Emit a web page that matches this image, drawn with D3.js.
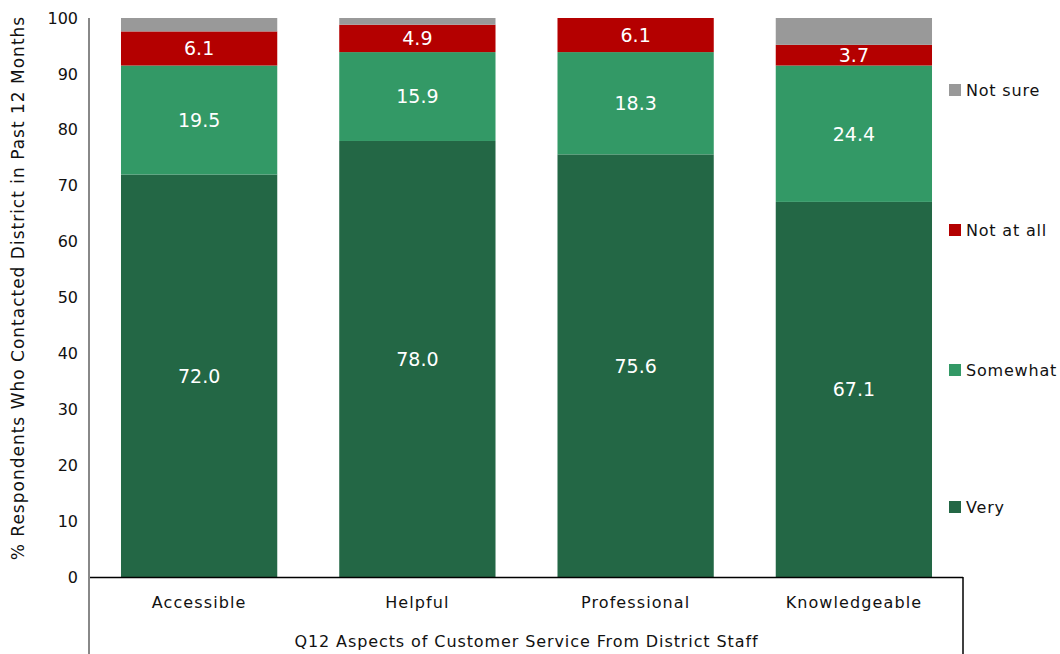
<!DOCTYPE html>
<html><head><meta charset="utf-8">
<script src="https://cdn.jsdelivr.net/npm/d3@7"></script>
<style>body{margin:0;background:#fff}</style>
</head><body>
<svg id="c" width="1060" height="654"></svg>
<script>
const categories = ["Accessible","Helpful","Professional","Knowledgeable"];
const seriesNames = ["Very","Somewhat","Not at all","Not sure"];
const very = [72.0, 78.0, 75.6, 67.1];
const somewhat = [19.5, 15.9, 18.3, 24.4];
const notAtAll = [6.1, 4.9, 6.1, 3.7];
const notSure = [2.4, 1.2, 0.0, 4.8];
const yTicks = [0,10,20,30,40,50,60,70,80,90,100];
const colors = ["#236745","#339966","#b40000","#999999"];

const font = "DejaVu Sans, Verdana, sans-serif";
const svg = d3.select("#c");
const L = 90, R = 963, T = 18, B = 577;
const x = d3.scaleBand().domain(categories).range([L, R]).paddingInner(0.284).paddingOuter(0.142);
const y = d3.scaleLinear().domain([0,100]).range([B, T]);

const rows = categories.map((c,i)=>({cat:c, "Very":very[i], "Somewhat":somewhat[i], "Not at all":notAtAll[i], "Not sure":notSure[i]}));
const stacked = d3.stack().keys(seriesNames)(rows);

const g = svg.append("g");
stacked.forEach((s,si)=>{
  g.selectAll(null).data(s).enter().append("rect")
    .attr("x", d=>x(d.data.cat)).attr("width", x.bandwidth())
    .attr("y", d=>y(d[1])).attr("height", d=>y(d[0])-y(d[1]))
    .attr("fill", colors[si]);
  if (si < 3) {
    g.selectAll(null).data(s).enter().append("text")
      .attr("x", d=>x(d.data.cat)+x.bandwidth()/2)
      .attr("y", d=>(y(d[0])+y(d[1]))/2)
      .attr("dy","0.36em")
      .attr("text-anchor","middle")
      .attr("fill","#fff").attr("font-family",font).attr("font-size",19)
      .text(d=>(d[1]-d[0]).toFixed(1));
  }
});

// y axis
const ya = d3.axisLeft(y).tickValues(yTicks).tickSize(0).tickPadding(12);
const yg = svg.append("g").attr("transform",`translate(${L},0)`).call(ya);
yg.select(".domain").remove();
yg.selectAll("text").attr("font-family",font).attr("font-size",16).attr("fill","#111");
svg.append("line").attr("x1",L-1).attr("x2",L-1).attr("y1",T).attr("y2",654).attr("stroke","#888").attr("stroke-width",2);

// x axis
const xa = d3.axisBottom(x).tickSize(0).tickPadding(20);
const xg = svg.append("g").attr("transform",`translate(0,${B})`).call(xa);
xg.select(".domain").remove();
xg.selectAll("text").attr("font-family",font).attr("font-size",16).attr("fill","#111").attr("letter-spacing",1.1);
svg.append("line").attr("x1",L).attr("x2",R).attr("y1",B+0.5).attr("y2",B+0.5).attr("stroke","#000").attr("stroke-width",1.5);
svg.append("line").attr("x1",R).attr("x2",R).attr("y1",B).attr("y2",654).attr("stroke","#000").attr("stroke-width",1.5);

svg.append("text").attr("x",(L+R)/2).attr("y",647).attr("text-anchor","middle")
  .attr("font-family",font).attr("font-size",16).attr("fill","#111").attr("letter-spacing",0.9)
  .text("Q12 Aspects of Customer Service From District Staff");
svg.append("text").attr("transform",`translate(24,288) rotate(-90)`).attr("text-anchor","middle")
  .attr("font-family",font).attr("font-size",17).attr("fill","#111").attr("letter-spacing",1)
  .text("% Respondents Who Contacted District in Past 12 Months");

// legend
const legY = [507,370,230,90];
const lg = svg.append("g");
seriesNames.forEach((n,i)=>{
  lg.append("rect").attr("x",949).attr("y",legY[i]-6).attr("width",12).attr("height",12).attr("fill",colors[i]);
  lg.append("text").attr("x",966).attr("y",legY[i]).attr("dy","0.35em")
    .attr("font-family",font).attr("font-size",16).attr("fill","#111").attr("letter-spacing",0.8).text(n);
});
</script>
</body></html>
